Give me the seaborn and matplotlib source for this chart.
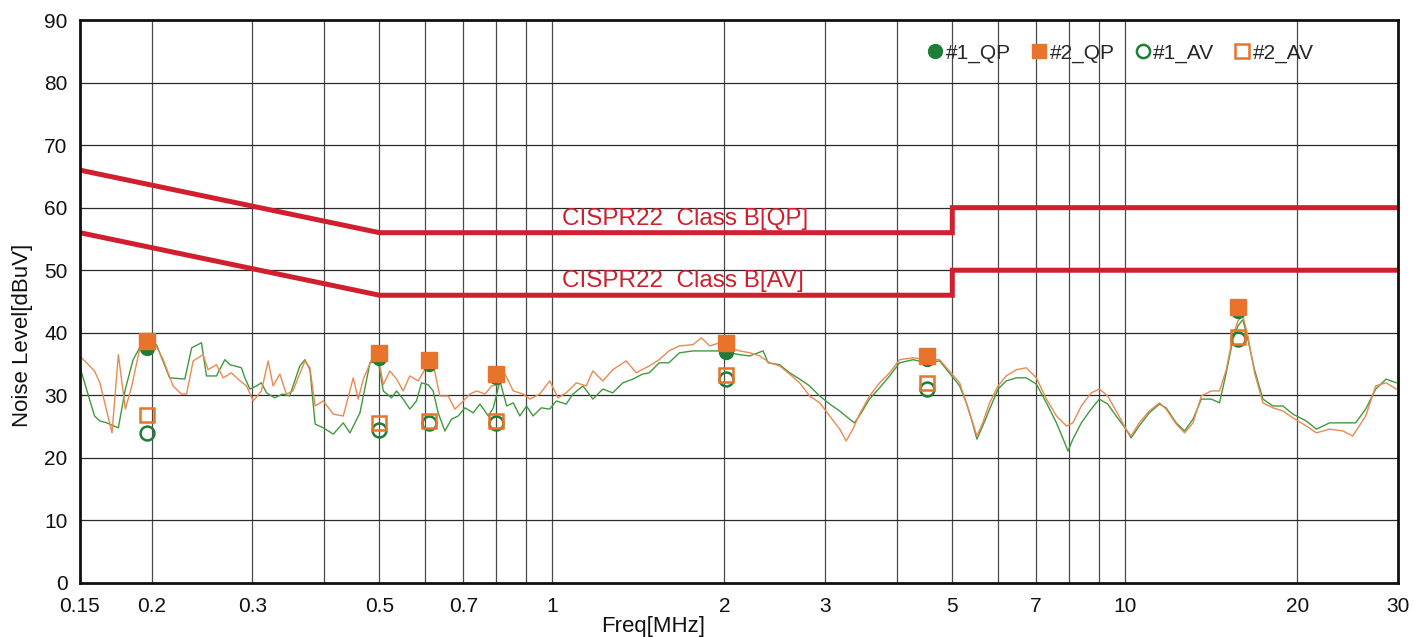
import numpy as np
import pandas as pd
import matplotlib
matplotlib.use("Agg")
import matplotlib.pyplot as plt
from matplotlib.lines import Line2D
from matplotlib.ticker import FixedLocator, NullLocator, NullFormatter
import seaborn as sns

# ---- measured conducted-emission traces (frequency in MHz, level in dBuV) ----
trace1_freq = [0.151, 0.159, 0.1625, 0.167, 0.175, 0.180, 0.1857, 0.192, 0.197, 0.204,
               0.215, 0.2286, 0.235, 0.2444, 0.2494, 0.2596, 0.2685, 0.274, 0.2795, 0.287,
               0.291, 0.297, 0.305, 0.311, 0.3175, 0.328, 0.339, 0.3484, 0.363, 0.3705,
               0.378, 0.386, 0.399, 0.4152, 0.4322, 0.444, 0.4622,
               0.4812, 0.4975, 0.5076, 0.5248, 0.5355, 0.5499, 0.5648, 0.5801, 0.592, 0.608,
               0.6203, 0.633, 0.6502, 0.668, 0.686, 0.705, 0.7289, 0.7488, 0.7744, 0.790,
               0.8115, 0.8336, 0.856, 0.879, 0.903, 0.927, 0.958, 0.9911, 1.018, 1.059,
               1.088, 1.133, 1.179, 1.227, 1.277, 1.33, 1.385, 1.44,
               1.479, 1.539, 1.60, 1.67, 1.763, 1.86, 1.963, 2.04, 2.128, 2.215,
               2.337, 2.385, 2.498, 2.60, 2.707, 2.818, 2.934, 3.055, 3.18, 3.308,
               3.375, 3.468, 3.585, 3.733, 3.886,
               4.045, 4.27, 4.50, 4.75, 4.94, 5.15, 5.29, 5.40, 5.52, 5.65,
               5.81, 6.01, 6.21, 6.47, 6.73, 7.01, 7.30, 7.60, 7.81, 7.96,
               8.12, 8.40, 8.74, 9.03, 9.34, 9.66, 10.05, 10.26, 10.6,
               11.04, 11.5, 11.81, 12.3, 12.72, 13.16, 13.61, 14.16, 14.64, 15.04,
               15.45, 15.76, 16.08, 16.41, 16.85, 17.43, 18.14, 18.89, 19.66, 20.75,
               21.6, 22.79, 24.05, 25.3, 26.35, 27.43, 28.6, 29.8]
trace1_level = [33.6, 26.7, 25.9, 25.6, 24.8, 31.0, 35.7, 38.1, 37.3, 38.1,
                32.8, 32.6, 37.6, 38.4, 33.1, 33.1, 35.7, 34.9, 34.7, 34.4,
                32.8, 31.0, 31.5, 32.0, 30.4, 29.6, 30.2, 29.9, 34.7, 35.7,
                34.1, 25.4, 24.8, 23.8, 25.6, 24.0, 27.2,
                35.2, 35.5, 30.7, 29.6, 30.7, 29.4, 27.8, 29.1, 32.0, 31.7,
                30.7, 27.2, 24.3, 26.2, 26.7, 28.0, 27.2, 28.6, 26.7, 28.0,
                32.3, 28.3, 28.8, 26.7, 28.3, 26.7, 28.0, 27.8, 29.1, 28.6,
                30.2, 31.5, 29.4, 31.0, 30.4, 32.0, 32.6, 33.4,
                33.6, 35.2, 35.2, 36.8, 37.1, 37.1, 37.1, 36.8, 36.5, 36.3,
                37.1, 35.2, 34.9, 33.6, 32.6, 31.5, 29.9, 28.6, 27.5, 26.2,
                25.6, 27.2, 29.4, 31.2, 33.1,
                35.2, 35.7, 35.2, 35.5, 33.6, 31.5, 28.8, 26.2, 23.0, 25.1,
                27.8, 31.0, 32.3, 32.8, 32.8, 31.8, 28.8, 25.6, 23.0, 21.1,
                23.0, 25.6, 27.8, 29.4, 28.6, 26.7, 24.6, 23.2, 25.1,
                27.2, 28.6, 28.0, 25.6, 24.3, 26.2, 29.4, 29.4, 28.8, 33.6,
                38.9, 41.1, 42.1, 38.9, 34.1, 29.4, 28.3, 28.3, 27.0, 25.9,
                24.6, 25.6, 25.6, 25.6, 27.8, 31.0, 32.6, 32.0]

trace2_freq = [0.151, 0.159, 0.1625, 0.1706, 0.175, 0.180, 0.1847, 0.192, 0.201, 0.2096,
               0.218, 0.2255, 0.2302, 0.2364, 0.246, 0.251, 0.2596, 0.2667, 0.2757, 0.283,
               0.293, 0.301, 0.311, 0.3196, 0.326, 0.335, 0.3438, 0.353, 0.3705, 0.378,
               0.386, 0.399, 0.4152, 0.4322, 0.450, 0.459, 0.4685,
               0.4844, 0.4975, 0.5076, 0.5213, 0.5355, 0.5499, 0.5648, 0.584, 0.600, 0.6161,
               0.6372, 0.659, 0.6769, 0.6953, 0.719, 0.7389, 0.764, 0.7848, 0.806, 0.828,
               0.856, 0.891, 0.915, 0.952, 0.9911, 1.025, 1.059, 1.103, 1.148, 1.179,
               1.227, 1.277, 1.348, 1.403,
               1.479, 1.539, 1.60, 1.67, 1.763, 1.823, 1.886, 1.963, 2.04, 2.128,
               2.215, 2.306, 2.40, 2.498, 2.60, 2.707, 2.818, 2.934, 3.055, 3.18,
               3.264, 3.353, 3.444, 3.585, 3.733, 3.886,
               4.045, 4.27, 4.50, 4.75, 4.94, 5.15, 5.29, 5.43, 5.52, 5.65,
               5.81, 6.01, 6.21, 6.47, 6.73, 7.01, 7.30, 7.60, 7.91, 8.12,
               8.40, 8.74, 9.03, 9.34, 9.66, 10.05, 10.26, 10.6,
               11.04, 11.5, 11.81, 12.3, 12.72, 13.16, 13.61, 14.16, 14.64, 15.04,
               15.45, 15.76, 16.08, 16.41, 16.85, 17.43, 18.14, 18.89, 19.66, 20.75,
               21.6, 22.79, 24.05, 25.0, 26.35, 27.43, 28.6, 29.8]
trace2_level = [36.0, 33.9, 32.0, 24.0, 36.5, 27.8, 31.5, 38.7, 38.9, 35.7,
                31.5, 30.2, 30.2, 35.5, 36.5, 34.1, 34.9, 32.8, 33.6, 32.6,
                31.5, 29.1, 30.7, 35.5, 31.5, 33.4, 30.2, 30.7, 35.5, 34.4,
                28.3, 29.1, 27.0, 26.7, 32.8, 29.4, 32.6,
                35.7, 36.3, 31.7, 33.9, 32.6, 30.7, 33.1, 32.3, 34.1, 36.3,
                29.9, 29.9, 27.8, 28.8, 30.2, 30.7, 30.2, 31.5, 31.7, 33.4,
                30.7, 30.2, 29.4, 30.2, 32.3, 29.6, 30.4, 32.0, 31.5, 33.9,
                32.3, 34.1, 35.5, 33.6,
                34.7, 35.7, 37.1, 37.9, 38.1, 39.2, 37.9, 38.4, 37.6, 37.1,
                36.8, 36.3, 35.2, 34.7, 33.4, 32.0, 29.9, 28.8, 26.7, 24.6,
                22.7, 24.6, 27.0, 29.9, 32.0, 33.6,
                35.7, 36.0, 35.7, 35.7, 33.9, 32.0, 28.8, 25.6, 23.5, 25.6,
                28.8, 31.5, 33.1, 34.1, 34.4, 32.8, 29.4, 26.7, 25.1, 25.6,
                28.3, 30.4, 31.0, 29.9, 27.5, 24.6, 23.5, 25.6,
                27.5, 28.8, 27.8, 25.4, 24.0, 25.6, 29.9, 30.7, 30.7, 34.1,
                39.5, 41.9, 42.7, 39.5, 33.6, 28.8, 28.0, 27.5, 26.4, 25.1,
                24.0, 24.6, 24.3, 23.5, 26.7, 31.5, 32.0, 31.0]

# ---- quasi-peak / average spot measurements ----
spot_freq = [0.196, 0.50, 0.61, 0.80, 2.01, 4.51, 15.8]
qp1_level = [37.5, 36.0, 35.0, 33.0, 37.0, 35.8, 43.5]
qp2_level = [38.7, 36.7, 35.6, 33.4, 38.4, 36.3, 44.2]
av1_level = [24.0, 24.4, 25.5, 25.5, 32.6, 31.0, 39.0]
av2_level = [26.8, 25.5, 25.9, 25.9, 33.2, 31.9, 39.3]

# ---- CISPR22 class B limits ----
limit_freq = [0.15, 0.5, 5.0, 5.0, 30.0]
limit_qp = [66, 56, 56, 60, 60]
limit_av = [56, 46, 46, 50, 50]
limit_labels = ["CISPR22  Class B[QP]", "CISPR22  Class B[AV]"]

x_ticks = [0.15, 0.2, 0.3, 0.5, 0.7, 1, 2, 3, 5, 7, 10, 20, 30]
x_ticklabels = ["0.15", "0.2", "0.3", "0.5", "0.7", "1", "2", "3", "5", "7", "10", "20", "30"]
y_ticks = list(range(0, 91, 10))
legend_labels = ["#1_QP", "#2_QP", "#1_AV", "#2_AV"]

GREEN_LINE = "#3f9a3f"
ORANGE_LINE = "#e98a52"
GREEN_MARK = "#1e7d36"
ORANGE_MARK = "#e8732a"
RED = "#d01f2e"

sns.set_theme(style="white")
plt.rcParams["font.family"] = ["Liberation Sans", "DejaVu Sans"]

fig = plt.figure(figsize=(14.15, 6.37), dpi=100)
ax = fig.add_axes([80 / 1415, 1 - 583 / 637, 1318 / 1415, 563 / 637])
ax.set_xscale("log")

# grid: decades and their 2..9 subdivisions, plus every 10 dB
vgrid = [m * d for d in (0.1, 1, 10) for m in range(2, 10) if 0.15 < m * d < 30]
vgrid += [1.0, 10.0]
for v in vgrid:
    ax.axvline(v, color="#4a4a4a", lw=0.9, zorder=1)
for h in range(10, 90, 10):
    ax.axhline(h, color="#2a2a2a", lw=0.9, zorder=1)

df1 = pd.DataFrame({"freq": trace1_freq, "level": trace1_level})
df2 = pd.DataFrame({"freq": trace2_freq, "level": trace2_level})
sns.lineplot(data=df1, x="freq", y="level", color=GREEN_LINE, lw=1.0,
             estimator=None, sort=False, ax=ax, zorder=3)
sns.lineplot(data=df2, x="freq", y="level", color=ORANGE_LINE, lw=1.0,
             estimator=None, sort=False, ax=ax, zorder=4)

# limit lines
ax.plot(limit_freq, limit_qp, color=RED, lw=3.6, solid_joinstyle="miter", zorder=5)
ax.plot(limit_freq, limit_av, color=RED, lw=3.6, solid_joinstyle="miter", zorder=5)
ax.text(1.04, 57.3, limit_labels[0], color=RED, fontsize=17.5, va="baseline", ha="left", zorder=6)
ax.text(1.04, 47.3, limit_labels[1], color=RED, fontsize=17.5, va="baseline", ha="left", zorder=6)

# spot measurements
ax.plot(spot_freq, qp1_level, ls="none", marker="o", ms=10, color=GREEN_MARK,
        mec=GREEN_MARK, zorder=7)
ax.plot(spot_freq, qp2_level, ls="none", marker="s", ms=11, color=ORANGE_MARK,
        mec=ORANGE_MARK, zorder=8)
ax.plot(spot_freq, av1_level, ls="none", marker="o", ms=10, mfc="none",
        mec=GREEN_MARK, mew=1.8, zorder=9)
ax.plot(spot_freq, av2_level, ls="none", marker="s", ms=10.5, mfc="none",
        mec=ORANGE_MARK, mew=1.8, zorder=9)

ax.set_xlim(0.15, 30)
ax.set_ylim(0, 90)
ax.xaxis.set_major_locator(FixedLocator(x_ticks))
ax.xaxis.set_minor_locator(NullLocator())
ax.xaxis.set_minor_formatter(NullFormatter())
ax.set_xticklabels(x_ticklabels)
ax.set_yticks(y_ticks)
ax.tick_params(axis="both", length=0, labelsize=15, colors="#111111")
ax.tick_params(axis="x", pad=10)
ax.tick_params(axis="y", pad=9)

for s in ax.spines.values():
    s.set_visible(True)
    s.set_color("#111111")
    s.set_linewidth(2.0)
    s.set_zorder(10)

ax.set_xlabel("Freq[MHz]", fontsize=16, color="#111111")
ax.set_ylabel("Noise Level[dBuV]", fontsize=16, color="#111111")
ax.xaxis.set_label_coords(0.435, -0.058)
ax.yaxis.set_label_coords(-0.036, 0.44)
ax.xaxis.label.set_va("top")

handles = [
    Line2D([], [], ls="none", marker="o", ms=10, color=GREEN_MARK),
    Line2D([], [], ls="none", marker="s", ms=10.5, color=ORANGE_MARK),
    Line2D([], [], ls="none", marker="o", ms=9.5, mfc="none", mec=GREEN_MARK, mew=1.8),
    Line2D([], [], ls="none", marker="s", ms=10, mfc="none", mec=ORANGE_MARK, mew=1.8),
]
ax.legend(handles, legend_labels, ncol=4, loc="center right",
          bbox_to_anchor=(0.944, 0.941), frameon=False, fontsize=15,
          handlelength=0.7, handletextpad=0.15, columnspacing=1.0, borderpad=0)

fig.savefig("out.png", dpi=100, facecolor="white")
